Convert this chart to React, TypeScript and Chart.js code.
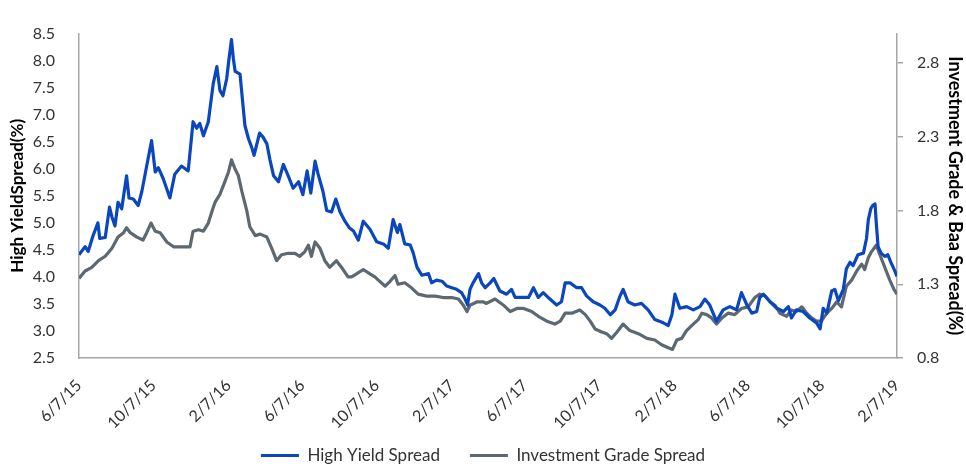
import React, { useEffect, useRef } from "react";
import { Chart, registerables } from "chart.js";

Chart.register(...registerables);

// x positions are days since 6/7/15
const tickDays = [0, 122, 245, 366, 488, 611, 731, 853, 976, 1096, 1218, 1341];
const tickLabels = ["6/7/15", "10/7/15", "2/7/16", "6/7/16", "10/7/16", "2/7/17", "6/7/17", "10/7/17", "2/7/18", "6/7/18", "10/7/18", "2/7/19"];

const hyDays = [
  0, 10, 15, 23, 31, 34, 43, 50, 54, 59, 64, 70, 78, 82, 89, 97, 103, 111, 119, 125,
  130, 138, 149, 157, 168, 179, 187, 193, 198, 204, 212, 220, 226, 231, 236, 242, 246, 250, 253, 256,
  264, 267, 272, 278, 283, 287, 296, 302, 308, 313, 319, 327, 335, 343, 351, 360, 367, 374, 380, 387,
  392, 400, 406, 414, 421, 428, 436, 443, 450, 458, 466, 477, 488, 499, 507, 515, 522, 526, 534, 543,
  548, 554, 562, 573, 578, 586, 595, 603, 611, 619, 627, 633, 637, 641, 646, 655, 660, 666, 674, 680,
  690, 701, 709, 715, 726, 737, 745, 753, 761, 772, 783, 791, 797, 805, 816, 824, 832, 843, 854, 862,
  871, 879, 886, 892, 900, 911, 922, 933, 944, 958, 966, 972, 977, 985, 996, 1007, 1018, 1026, 1034, 1045,
  1056, 1067, 1078, 1086, 1095, 1103, 1111, 1116, 1122, 1133, 1144, 1155, 1163, 1168, 1176, 1187, 1198, 1209, 1215, 1220,
  1226, 1234, 1239, 1245, 1253, 1258, 1264, 1269, 1277, 1286, 1291, 1294, 1298, 1301, 1305, 1307, 1310, 1315, 1321, 1326,
  1331, 1337, 1341
];
const hyValues = [
  4.41, 4.56, 4.47, 4.76, 5.0, 4.71, 4.73, 5.29, 5.11, 4.94, 5.38, 5.26, 5.87, 5.46, 5.44, 5.32, 5.58, 6.05, 6.52, 5.94,
  6.02, 5.82, 5.46, 5.9, 6.05, 5.96, 6.87, 6.75, 6.84, 6.61, 6.87, 7.57, 7.89, 7.45, 7.35, 7.66, 8.04, 8.39, 8.04, 7.8,
  7.75, 7.39, 6.8, 6.55, 6.4, 6.25, 6.66, 6.58, 6.46, 6.17, 5.87, 5.76, 6.08, 5.87, 5.64, 5.76, 5.52, 5.96, 5.55, 6.14,
  5.9, 5.58, 5.23, 5.2, 5.44, 5.2, 5.03, 4.91, 4.85, 4.68, 5.03, 4.88, 4.65, 4.61, 4.53, 5.06, 4.82, 4.97, 4.61, 4.59,
  4.44, 4.18, 4.03, 4.06, 3.89, 3.94, 3.92, 3.83, 3.8, 3.77, 3.71, 3.59, 3.48, 3.77, 3.89, 4.06, 3.89, 3.8, 3.89, 3.97,
  3.74, 3.68, 3.77, 3.62, 3.62, 3.62, 3.8, 3.62, 3.71, 3.59, 3.48, 3.54, 3.89, 3.89, 3.8, 3.8, 3.65, 3.54, 3.48, 3.42,
  3.3, 3.39, 3.62, 3.77, 3.54, 3.48, 3.51, 3.39, 3.21, 3.15, 3.1, 3.3, 3.68, 3.42, 3.45, 3.39, 3.45, 3.59, 3.48, 3.18,
  3.39, 3.45, 3.39, 3.71, 3.48, 3.33, 3.36, 3.62, 3.68, 3.54, 3.42, 3.36, 3.45, 3.24, 3.39, 3.36, 3.24, 3.15, 3.04, 3.42,
  3.33, 3.74, 3.77, 3.56, 3.77, 4.15, 4.27, 4.21, 4.41, 4.44, 4.71, 5.06, 5.26, 5.32, 5.35, 5.0, 4.56, 4.44, 4.38, 4.41,
  4.27, 4.12, 4.01
];

const igDays = [
  0, 10, 21, 32, 43, 54, 64, 73, 78, 84, 95, 105, 111, 118, 125, 133, 144, 155, 168, 182,
  187, 196, 204, 212, 220, 223, 231, 239, 245, 250, 256, 261, 267, 275, 280, 289, 297, 308, 316, 324,
  332, 343, 354, 362, 370, 376, 381, 387, 395, 403, 411, 422, 433, 441, 447, 455, 466, 477, 485, 493,
  502, 510, 518, 523, 534, 545, 556, 570, 584, 597, 611, 622, 630, 636, 641, 652, 663, 668, 682, 696,
  707, 718, 729, 742, 753, 767, 780, 789, 797, 808, 821, 830, 838, 846, 857, 865, 873, 882, 892, 903,
  917, 931, 944, 955, 966, 973, 980, 988, 996, 1007, 1015, 1021, 1029, 1037, 1045, 1054, 1064, 1075, 1086, 1097,
  1108, 1116, 1125, 1133, 1141, 1149, 1160, 1168, 1176, 1185, 1193, 1201, 1209, 1217, 1226, 1234, 1242, 1250, 1258, 1267,
  1275, 1283, 1288, 1294, 1299, 1307, 1313, 1321, 1329, 1336, 1341
];
const igValues = [
  1.34, 1.39, 1.415, 1.46, 1.49, 1.544, 1.62, 1.65, 1.683, 1.65, 1.62, 1.6, 1.65, 1.715, 1.66, 1.65, 1.587, 1.554, 1.554, 1.554,
  1.66, 1.67, 1.66, 1.715, 1.82, 1.855, 1.91, 1.994, 2.06, 2.144, 2.08, 2.04, 1.93, 1.8, 1.69, 1.63, 1.64, 1.62, 1.544, 1.46,
  1.5, 1.51, 1.51, 1.49, 1.52, 1.565, 1.49, 1.587, 1.544, 1.46, 1.415, 1.46, 1.4, 1.35, 1.35, 1.37, 1.4, 1.37, 1.35, 1.32,
  1.287, 1.32, 1.36, 1.3, 1.31, 1.276, 1.233, 1.22, 1.22, 1.21, 1.21, 1.2, 1.158, 1.115, 1.158, 1.18, 1.18, 1.17, 1.2, 1.158,
  1.115, 1.136, 1.136, 1.115, 1.083, 1.05, 1.03, 1.05, 1.104, 1.104, 1.126, 1.094, 1.05, 0.997, 0.976, 0.965, 0.933, 0.976, 1.03, 0.986,
  0.965, 0.933, 0.922, 0.89, 0.869, 0.858, 0.922, 0.933, 0.986, 1.03, 1.06, 1.104, 1.094, 1.072, 1.03, 1.072, 1.104, 1.094, 1.136, 1.147,
  1.21, 1.233, 1.22, 1.18, 1.158, 1.104, 1.083, 1.126, 1.115, 1.147, 1.104, 1.072, 1.05, 1.05, 1.104, 1.136, 1.18, 1.147, 1.287, 1.33,
  1.39, 1.437, 1.4, 1.48, 1.52, 1.565, 1.5, 1.415, 1.33, 1.265, 1.233
];

const leftTicks = [2.5, 3.0, 3.5, 4.0, 4.5, 5.0, 5.5, 6.0, 6.5, 7.0, 7.5, 8.0, 8.5];
const rightTicks = [0.8, 1.3, 1.8, 2.3, 2.8];

const BLUE = "#0A46BE";
const GRAY = "#5D6870";
const AXIS = "#A6A6A6";
const TEXT = "#333333";

// lets the rotated date labels extend below the x-axis box (into the legend gap)
const xLabelRoom = {
  id: "xLabelRoom",
  afterLayout(chart: any) {
    const x = chart.scales.x;
    if (x) x.bottom = chart.height;
  },
};

export default function App() {
  const ref = useRef<HTMLCanvasElement | null>(null);

  useEffect(() => {
    if (!ref.current) return;
    Chart.defaults.font.family = "Lato";
    const chart = new Chart(ref.current, {
      type: "line",
      data: {
        datasets: [
          {
            label: "High Yield Spread",
            data: hyDays.map((d, i) => ({ x: d, y: hyValues[i] })),
            borderColor: BLUE,
            backgroundColor: BLUE,
            borderWidth: 3.2,
            pointRadius: 0,
            tension: 0,
            borderJoinStyle: "round",
            yAxisID: "y",
          },
          {
            label: "Investment Grade Spread",
            data: igDays.map((d, i) => ({ x: d, y: igValues[i] })),
            borderColor: GRAY,
            backgroundColor: GRAY,
            borderWidth: 3.2,
            pointRadius: 0,
            tension: 0,
            borderJoinStyle: "round",
            yAxisID: "y1",
          },
        ],
      },
      plugins: [xLabelRoom],
      options: {
        responsive: false,
        animation: false,
        layout: { padding: { top: 17, left: 0, right: 0, bottom: -8 } },
        plugins: {
          tooltip: { enabled: false },
          legend: {
            position: "bottom",
            labels: {
              usePointStyle: true,
              pointStyle: "line",
              pointStyleWidth: 38,
              padding: 30,
              color: TEXT,
              font: { size: 17 },
            },
          },
        },
        scales: {
          x: {
            type: "linear",
            min: 0,
            max: 1341,
            afterBuildTicks: (s: any) => {
              s.ticks = tickDays.map((v) => ({ value: v }));
            },
            afterFit: (s: any) => {
              s.height = 59;
            },
            ticks: {
              autoSkip: false,
              minRotation: 45,
              maxRotation: 45,
              padding: 18,
              color: TEXT,
              font: { size: 16 },
              callback: (v: any) => {
                const i = tickDays.indexOf(Number(v));
                return i >= 0 ? tickLabels[i] : "";
              },
            },
            grid: { display: false, drawTicks: false },
            border: { display: true, color: AXIS, width: 1.5 },
          },
          y: {
            position: "left",
            min: 2.5,
            max: 8.5,
            afterBuildTicks: (s: any) => {
              s.ticks = leftTicks.map((v) => ({ value: v }));
            },
            afterFit: (s: any) => {
              s.width = 79;
            },
            ticks: {
              padding: 24,
              color: TEXT,
              font: { size: 16 },
              callback: (v: any) => Number(v).toFixed(1),
            },
            grid: { display: false, drawTicks: false },
            border: { display: true, color: AXIS, width: 1.5 },
            title: {
              display: true,
              text: "High YieldSpread(%)",
              color: "#000",
              font: { size: 17, weight: "bold" },
              padding: { top: 7, bottom: 0 },
            },
          },
          y1: {
            position: "right",
            min: 0.8,
            max: 3.0,
            afterBuildTicks: (s: any) => {
              s.ticks = rightTicks.map((v) => ({ value: v }));
            },
            afterFit: (s: any) => {
              s.width = 69;
            },
            ticks: {
              padding: 14,
              color: TEXT,
              font: { size: 16 },
              callback: (v: any) => Number(v).toFixed(1),
            },
            grid: {
              display: true,
              drawOnChartArea: false,
              drawTicks: true,
              tickLength: 6,
              color: AXIS,
              lineWidth: 1.5,
            },
            border: { display: true, color: AXIS, width: 1.5 },
            title: {
              display: true,
              text: "Investment Grade & Baa Spread(%)",
              color: "#000",
              font: { size: 18, weight: "bold" },
              padding: { top: 0, bottom: 0 },
            },
          },
        },
      },
    } as any);
    return () => chart.destroy();
  }, []);

  return (
    <div style={{ position: "absolute", left: 0, top: 0, width: 966, height: 466, background: "#fff" }}>
      <canvas ref={ref} width={966} height={466} style={{ display: "block" }} />
    </div>
  );
}
